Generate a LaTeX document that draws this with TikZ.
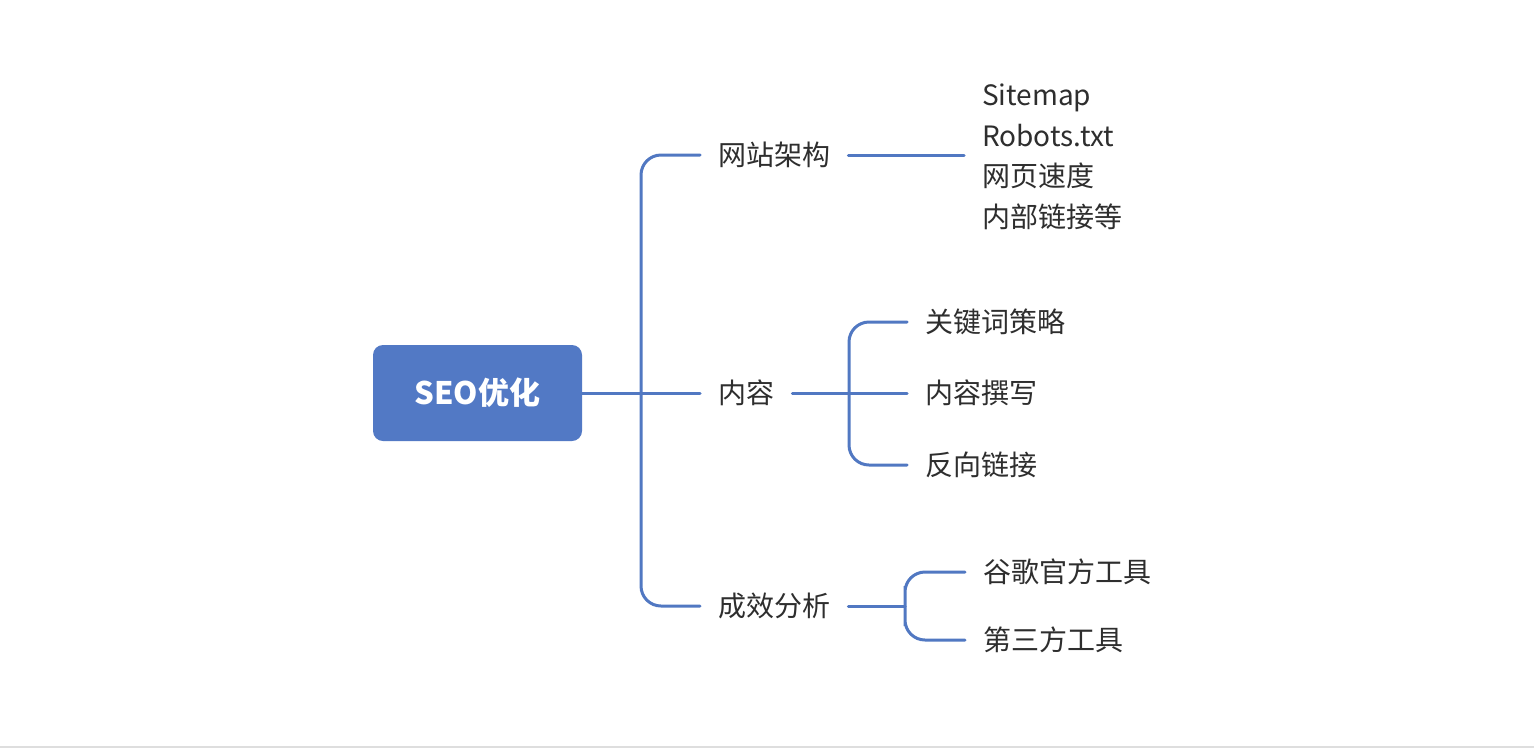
\documentclass[tikz,border=0pt]{standalone}
\usepackage{fontspec}
\setmainfont{Noto Sans CJK SC}
\definecolor{linec}{HTML}{5178C2}
\definecolor{rootc}{HTML}{5279C5}
\definecolor{txtc}{HTML}{2E2E2E}
\begin{document}
\begin{tikzpicture}[x=1pt,y=-1pt,
  conn/.style={draw=linec,line width=3pt,line cap=round},
  lbl/.style={anchor=west,inner xsep=18pt,inner ysep=0pt,text=txtc,font=\fontsize{28}{32}\selectfont},
  rootbox/.style={fill=rootc,rounded corners=10pt,minimum width=209pt,minimum height=96pt,text=white,font=\fontsize{31}{34}\selectfont\bfseries}]
\useasboundingbox (0,0) rectangle (1534,748);
\fill[white] (0,0) rectangle (1534,748);
\draw[black!13,line width=2pt] (0,747) -- (1534,747);
% root
\node[rootbox] (root) at (477.5,393) {SEO优化};
% level 1
\node[lbl] (nw) at (700,155) {网站架构};
\node[lbl] (nc) at (700,393) {内容};
\node[lbl] (nf) at (700,606) {成效分析};
\coordinate (j1) at (641,393);
\draw[conn] (root.east) -- (nc.west);
\draw[conn,rounded corners=20pt] (nw.west) -| (j1) |- (nf.west);
% website list
\node[lbl,align=left,font=\fontsize{28}{40.5}\selectfont] (list) at (964,157) {Sitemap\\Robots.txt\\网页速度\\内部链接等};
\draw[conn] (nw.east) -- (nw.east -| list.west);
% content
\node[lbl] (c1) at (907,322) {关键词策略};
\node[lbl] (c2) at (907,393) {内容撰写};
\node[lbl] (c3) at (907,465) {反向链接};
\coordinate (j2) at (849,393);
\draw[conn] (nc.east) -- (c2.west);
\draw[conn,rounded corners=20pt] (c1.west) -| (j2) |- (c3.west);
% analysis
\node[lbl] (f1) at (965,572) {谷歌官方工具};
\node[lbl] (f2) at (965,640) {第三方工具};
\coordinate (j3) at (905,606);
\draw[conn] (nf.east) -- (j3);
\draw[conn,rounded corners=20pt] (f1.west) -| (j3) |- (f2.west);
\end{tikzpicture}
\end{document}
